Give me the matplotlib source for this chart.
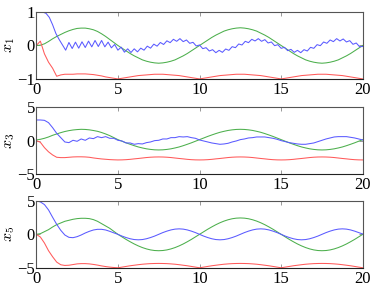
import matplotlib
matplotlib.use("Agg")
import matplotlib.pyplot as plt
import numpy as np

plt.rcParams['font.family'] = ['Liberation Serif', 'DejaVu Serif']
plt.rcParams['mathtext.fontset'] = 'cm'

# Sample step of the traces (time units)
STEP = 0.25
STEP_WIGGLE = 0.2

# x_1 traces
blue1 = [1.0, 1.0, 1.0, 0.96, 0.84, 0.62, 0.36, 0.18, 0.02, -0.14,
         0.09, -0.09, 0.10, -0.08, 0.11, -0.06, 0.13, -0.04, 0.15, -0.03,
         0.15, -0.04, 0.10, -0.07, 0.03, -0.14, -0.05, -0.20, -0.10, -0.21,
         -0.10, -0.19, -0.08, -0.14, -0.02, -0.08, 0.04, -0.02, 0.09, 0.03,
         0.14, 0.085, 0.185, 0.125, 0.205, 0.115, 0.165, 0.065, 0.095, -0.015,
         0.015, -0.095, -0.065, -0.165, -0.125, -0.215, -0.145, -0.205, -0.105, -0.145,
         -0.035, -0.065, 0.045, 0.015, 0.125, 0.085, 0.185, 0.135, 0.205, 0.125,
         0.175, 0.075, 0.105, -0.005, 0.025, -0.085, -0.055, -0.155, -0.115, -0.205,
         -0.145, -0.215, -0.125, -0.165, -0.055, -0.085, 0.025, -0.005, 0.105, 0.065,
         0.165, 0.115, 0.205, 0.135, 0.195, 0.105, 0.145, 0.035, 0.075, -0.035,
         -0.03]
green1 = [0, .01, .05, .12, .20, .27, .33, .39, .44, .48, .51, .52, .52, .50, .47, .42, .35, .27, .18, .09,
          0, -.08, -.16, -.24, -.31, -.37, -.43, -.47, -.50, -.52, -.53, -.52, -.50, -.47, -.43, -.37, -.31, -.24, -.16, -.08,
          0, .08, .16, .24, .31, .37, .43, .47, .50, .52, .53, .52, .50, .47, .43, .37, .31, .24, .16, .08,
          0, -.08, -.16, -.24, -.31, -.37, -.43, -.47, -.50, -.52, -.53, -.52, -.50, -.47, -.43, -.37, -.31, -.24, -.16, -.08,
          0]
red1 = [0, .13, -.25, -.5, -.68, -.92, -.88, -.86, -.86, -.86, -.85, -.85, -.85, -.86, -.87, -.89, -.91, -.94, -.96, -.98,
        -1, -.98, -.96, -.94, -.92, -.90, -.89, -.88, -.87, -.86, -.86, -.86, -.87, -.88, -.89, -.90, -.92, -.94, -.96, -.98,
        -1, -.98, -.96, -.94, -.92, -.90, -.89, -.88, -.87, -.86, -.86, -.86, -.87, -.88, -.89, -.90, -.92, -.94, -.96, -.98,
        -1, -.98, -.96, -.94, -.92, -.90, -.89, -.88, -.87, -.86, -.86, -.86, -.87, -.88, -.89, -.90, -.92, -.94, -.96, -.98,
        -1]

# x_3 traces
blue3 = [3.1, 3.1, 3.05, 2.7, 1.95, 1.1, 0.45, -0.2, -0.3, 0.05, -0.1, 0.25, 0.05, 0.4, 0.3, 0.6, 0.45, 0.6, 0.35, 0.35,
         0.05, -0.05, -0.35, -0.35, -0.55, -0.45, -0.5, -0.3, -0.2, 0.0, 0.05, 0.25, 0.25, 0.45, 0.45, 0.6, 0.55, 0.6, 0.45, 0.35,
         0.1, -0.05, -0.2, -0.35, -0.45, -0.55, -0.5, -0.4, -0.2, -0.05, 0.15, 0.25, 0.4, 0.45, 0.55, 0.55, 0.55, 0.45, 0.35, 0.2,
         0.0, -0.15, -0.3, -0.4, -0.5, -0.55, -0.55, -0.45, -0.35, -0.15, 0.05, 0.25, 0.4, 0.55, 0.6, 0.6, 0.6, 0.5, 0.4, 0.25,
         0.1]
green3 = [0.1, 0.2, 0.35, 0.55, 0.8, 1.0, 1.2, 1.37, 1.5, 1.6, 1.66, 1.7, 1.68, 1.62, 1.52, 1.4, 1.22, 1.0, 0.75, 0.45,
          .15, -.09, -.33, -.55, -.76, -.95, -1.10, -1.23, -1.32, -1.38, -1.40, -1.38, -1.32, -1.23, -1.10, -.95, -.76, -.55, -.33, -.09,
          .15, .39, .63, .85, 1.06, 1.25, 1.40, 1.53, 1.62, 1.68, 1.70, 1.68, 1.62, 1.53, 1.40, 1.25, 1.06, .85, .63, .39,
          .15, -.09, -.33, -.55, -.76, -.95, -1.10, -1.23, -1.32, -1.38, -1.40, -1.38, -1.32, -1.23, -1.10, -.95, -.76, -.55, -.33, -.09,
          .15]
red3 = [0, -0.25, -1.05, -1.68, -2.15, -2.5, -2.55, -2.55, -2.5, -2.45, -2.43, -2.43, -2.45, -2.5, -2.6, -2.68, -2.75, -2.8, -2.85, -2.88,
        -2.90, -2.89, -2.86, -2.81, -2.74, -2.68, -2.61, -2.54, -2.49, -2.46, -2.45, -2.46, -2.49, -2.54, -2.61, -2.68, -2.74, -2.81, -2.86, -2.89,
        -2.90, -2.89, -2.86, -2.81, -2.74, -2.68, -2.61, -2.54, -2.49, -2.46, -2.45, -2.46, -2.49, -2.54, -2.61, -2.68, -2.74, -2.81, -2.86, -2.89,
        -2.90, -2.89, -2.86, -2.81, -2.74, -2.68, -2.61, -2.54, -2.49, -2.46, -2.45, -2.46, -2.49, -2.54, -2.61, -2.68, -2.74, -2.81, -2.86, -2.89,
        -2.90]

# x_5 traces
blue5 = [5.0, 4.85, 4.45, 3.65, 2.55, 1.5, 0.6, -0.1, -0.45, -0.5, -0.35, -0.1, 0.2, 0.45, 0.65, 0.75, 0.75, 0.65, 0.45, 0.22,
         0, -.26, -.48, -.66, -.78, -.82, -.78, -.66, -.48, -.26, 0, .26, .48, .66, .78, .82, .78, .66, .48, .26,
         0, -.26, -.48, -.66, -.78, -.82, -.78, -.66, -.48, -.26, 0, .26, .48, .66, .78, .82, .78, .66, .48, .26,
         0, -.26, -.48, -.66, -.78, -.82, -.78, -.66, -.48, -.26, 0, .26, .48, .66, .78, .82, .78, .66, .48, .26,
         0.05]
green5 = [0, .1, .4, .7, 1.1, 1.45, 1.7, 1.95, 2.1, 2.25, 2.35, 2.4, 2.4, 2.35, 2.2, 1.95, 1.6, 1.25, 0.9, 0.45,
          0, -.38, -.76, -1.11, -1.44, -1.73, -1.98, -2.18, -2.33, -2.42, -2.45, -2.42, -2.33, -2.18, -1.98, -1.73, -1.44, -1.11, -.76, -.38,
          0, .38, .76, 1.11, 1.44, 1.73, 1.98, 2.18, 2.33, 2.42, 2.45, 2.42, 2.33, 2.18, 1.98, 1.73, 1.44, 1.11, .76, .38,
          0, -.38, -.76, -1.11, -1.44, -1.73, -1.98, -2.18, -2.33, -2.42, -2.45, -2.42, -2.33, -2.18, -1.98, -1.73, -1.44, -1.11, -.76, -.38,
          0]
red5 = [0, -0.4, -1.3, -2.45, -3.35, -4.15, -4.55, -4.65, -4.62, -4.52, -4.42, -4.38, -4.38, -4.42, -4.5, -4.6, -4.72, -4.82, -4.9, -4.96,
        -5, -4.90, -4.80, -4.70, -4.62, -4.54, -4.47, -4.42, -4.38, -4.36, -4.35, -4.36, -4.38, -4.42, -4.47, -4.54, -4.62, -4.70, -4.80, -4.90,
        -5, -4.90, -4.80, -4.70, -4.62, -4.54, -4.47, -4.42, -4.38, -4.36, -4.35, -4.36, -4.38, -4.42, -4.47, -4.54, -4.62, -4.70, -4.80, -4.90,
        -5, -4.90, -4.80, -4.70, -4.62, -4.54, -4.47, -4.42, -4.38, -4.36, -4.35, -4.36, -4.38, -4.42, -4.47, -4.54, -4.62, -4.70, -4.80, -4.90,
        -5]

panels = [
    (r'$x_1$', (-1, 1), [-1, 0, 1], blue1, STEP_WIGGLE, green1, red1),
    (r'$x_3$', (-5, 5), [-5, 0, 5], blue3, STEP, green3, red3),
    (r'$x_5$', (-5, 5), [-5, 0, 5], blue5, STEP, green5, red5),
]

BLUE = '#5a5aff'
GREEN = '#4caf4c'
RED = '#ff5a5a'

fig = plt.figure(figsize=(3.74, 2.87), dpi=100)
boxes = [[0.097, 0.725, 0.873, 0.233],
         [0.097, 0.394, 0.873, 0.232],
         [0.097, 0.067, 0.873, 0.233]]

for box, (label, ylim, yticks, b, bstep, g, r) in zip(boxes, panels):
    ax = fig.add_axes(box)
    tb = np.arange(len(b)) * bstep
    tg = np.arange(len(g)) * STEP
    tr = np.arange(len(r)) * STEP
    ax.plot(tg, g, color=GREEN, lw=0.75)
    ax.plot(tb, b, color=BLUE, lw=0.75)
    ax.plot(tr, r, color=RED, lw=0.75)
    ax.set_xlim(0, 20)
    ax.set_ylim(*ylim)
    ax.set_xticks([0, 5, 10, 15, 20])
    ax.set_yticks(yticks)
    ax.tick_params(direction='in', top=True, right=True, labelsize=12,
                   length=3, width=0.6, color='#888888')
    ax.tick_params(axis='x', pad=2)
    ax.tick_params(axis='y', pad=1)
    for s in ax.spines.values():
        s.set_linewidth(0.8)
        s.set_color('#555555')
    ax.spines['bottom'].set_color('#222222')
    ax.set_ylabel(label, fontsize=11.5)
    ax.yaxis.set_label_coords(-0.058, 0.5)

fig.savefig('out.png', dpi=100)
